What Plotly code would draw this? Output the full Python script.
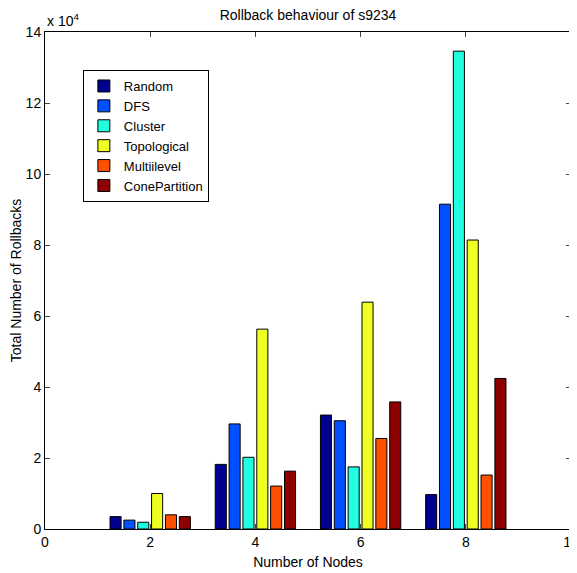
import plotly.graph_objects as go

nodes = [2, 4, 6, 8]
series_names = ["Random", "DFS", "Cluster", "Topological", "Multiilevel", "ConePartition"]
random_vals = [3500, 18200, 32100, 9700]
dfs_vals = [2500, 29600, 30500, 91500]
cluster_vals = [1900, 20200, 17500, 134600]
topological_vals = [10000, 56300, 63900, 81400]
multilevel_vals = [4000, 12100, 25500, 15200]
cone_vals = [3500, 16300, 35800, 42400]
colors = ["#00008F", "#0050FF", "#20FFDF", "#EFFF20", "#FF5000", "#8F0000"]
y_tick_vals = [0, 20000, 40000, 60000, 80000, 100000, 120000, 140000]
y_tick_text = ["0", "2", "4", "6", "8", "10", "12", "14"]
x_tick_vals = [0, 2, 4, 6, 8, 10]

all_series = [random_vals, dfs_vals, cluster_vals, topological_vals, multilevel_vals, cone_vals]

fig = go.Figure()
for name, vals, col in zip(series_names, all_series, colors):
    fig.add_trace(go.Bar(x=nodes, y=vals, name=name,
                         marker=dict(color=col, line=dict(color="black", width=1))))

W, H = 569, 565
font = "Liberation Sans, Arial, sans-serif"
fig.update_layout(
    width=W, height=H,
    margin=dict(l=37, r=6, t=24, b=44, autoexpand=False),
    paper_bgcolor="white", plot_bgcolor="white",
    barmode="group", bargap=0.21, bargroupgap=0.2,
    font=dict(family=font, size=14, color="black"),
    title=dict(text="Rollback behaviour of s9234", xref="paper", x=0.5, xanchor="center",
               yref="container", y=1 - 7 / H, yanchor="middle", font=dict(size=14)),
    showlegend=True,
    legend=dict(x=0.072, y=0.9235, xanchor="left", yanchor="top", bordercolor="black", borderwidth=1,
                bgcolor="white", font=dict(size=13), tracegroupgap=0, itemwidth=30),
    xaxis=dict(range=[0, 10], tickvals=x_tick_vals, ticks="inside", ticklen=5, showline=True,
               linecolor="black", linewidth=1, mirror="ticks", showgrid=False, zeroline=False,
               automargin=False, ticklabeloverflow="allow",
               title=dict(text="Number of Nodes", standoff=8, font=dict(size=14)), tickfont=dict(size=14)),
    yaxis=dict(range=[0, 140000], tickvals=y_tick_vals, ticktext=y_tick_text, ticks="inside", ticklen=5,
               showline=True, linecolor="black", linewidth=1, mirror="ticks", showgrid=False, zeroline=False,
               automargin=False, ticklabeloverflow="allow",
               title=dict(text="Total Number of Rollbacks", standoff=0, font=dict(size=14)),
               tickfont=dict(size=14)),
    annotations=[dict(text="x 10<sup>4</sup>", xref="paper", yref="paper", x=0.0, y=1.0, xanchor="left",
                      yanchor="bottom", showarrow=False, font=dict(size=14), yshift=1)],
)

fig.write_html("out.html")
